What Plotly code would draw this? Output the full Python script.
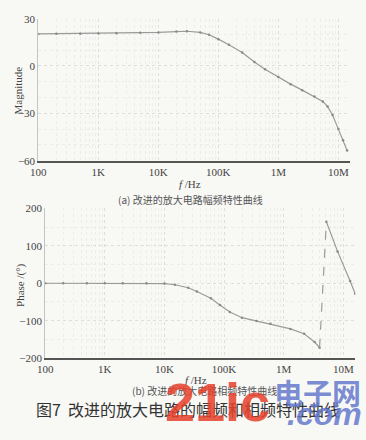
import plotly.graph_objects as go

# ---------------- data ----------------
mag_freq = [100, 200, 500, 1e3, 2e3, 5e3, 1e4, 2e4, 3e4, 5e4, 7e4, 1e5, 1.5e5,
            2.5e5, 4e5, 6e5, 1e6, 1.6e6, 2.5e6, 4e6, 5.5e6, 6.6e6, 8e6, 1e7, 1.2e7, 1.4e7]
mag_db = [20.3, 20.4, 20.5, 20.6, 20.8, 21.0, 21.3, 21.8, 22.0, 21.3, 19.8, 17.0, 13.5,
          8.5, 2.5, -2.0, -7.0, -11.5, -15.3, -19.3, -22.5, -25.6, -31.0, -40.0, -47.0, -53.5]

phase_freq_a = [100, 200, 500, 1e3, 2e3, 5e3, 1e4, 1.5e4, 2.5e4, 3.5e4, 6e4, 8.5e4, 1.25e5,
                2e5, 3.5e5, 6e5, 1.3e6, 2.2e6, 3.3e6, 4.0e6]
phase_deg_a = [0, 0, 0, 0, 0, 0, -1, -4, -12, -22, -40, -58, -77,
               -92, -101, -108, -122, -135, -157, -172]
phase_freq_b = [5.2e6, 8e6, 1.3e7, 1.58e7]
phase_deg_b = [164, 85, 6, -28]

x_tickvals = [100, 1e3, 1e4, 1e5, 1e6, 1e7]
x_ticktext = ["100", "1K", "10K", "100K", "1M", "10M"]
mag_ticks = [30, 0, -30, -60]
phase_ticks = [200, 100, 0, -100, -200]

caption_a = "(a) 改进的放大电路幅频特性曲线"
caption_b = "(b) 改进的放大电路相频特性曲线"
caption_fig = "图7  改进的放大电路的幅频和相频特性曲线"

# ---------------- style ----------------
W, H = 366, 440
SERIF = "Liberation Serif, Times New Roman, serif"
CJK = "Noto Sans CJK SC"
LINE = "#9a9a9a"
MARK = "#8a8a8a"
GRID = "#dedede"
MINOR = "#ececec"
BG = "#f8f8f5"

def px(x):
    return x / W

def py(y):
    return 1 - y / H

fig = go.Figure()

fig.add_trace(go.Scatter(x=mag_freq, y=mag_db, mode="lines+markers",
                         line=dict(color=LINE, width=1.2),
                         marker=dict(size=2.5, color=MARK),
                         xaxis="x", yaxis="y", showlegend=False))

fig.add_trace(go.Scatter(x=phase_freq_a, y=phase_deg_a, mode="lines+markers",
                         line=dict(color=LINE, width=1.2),
                         marker=dict(size=2.5, color=MARK),
                         xaxis="x2", yaxis="y2", showlegend=False))
fig.add_trace(go.Scatter(x=[phase_freq_a[-1], phase_freq_b[0]],
                         y=[phase_deg_a[-1], phase_deg_b[0]], mode="lines",
                         line=dict(color=LINE, width=1.2, dash="dash"),
                         xaxis="x2", yaxis="y2", showlegend=False))
fig.add_trace(go.Scatter(x=phase_freq_b, y=phase_deg_b, mode="lines+markers",
                         line=dict(color=LINE, width=1.2),
                         marker=dict(size=2.5, color=MARK),
                         xaxis="x2", yaxis="y2", showlegend=False))

xcommon = dict(type="log", range=[2, 7.2], tickvals=x_tickvals, ticktext=x_ticktext,
               showgrid=True, gridcolor=GRID, griddash="dot", gridwidth=1,
               minor=dict(dtick="D1", showgrid=True, gridcolor=MINOR, griddash="dot"),
               showline=True, linecolor="#555", linewidth=2, ticks="",
               tickfont=dict(family=SERIF, size=11, color="#444"), zeroline=False)
ycommon = dict(showgrid=True, gridcolor=GRID, griddash="dot", gridwidth=1,
               showline=True, linecolor="#c4c4c4", linewidth=1, ticks="",
               tickfont=dict(family=SERIF, size=11, color="#444"), zeroline=False)

fig.update_layout(
    width=W, height=H, margin=dict(l=0, r=0, t=0, b=0),
    paper_bgcolor=BG, plot_bgcolor=BG,
    xaxis=dict(xcommon, domain=[px(31), px(350)], anchor="y"),
    yaxis=dict(ycommon, domain=[py(159), py(13)], range=[-60, 30], tickvals=mag_ticks,
               minor=dict(dtick=10, showgrid=True, gridcolor=MINOR, griddash="dot"),
               anchor="x"),
    xaxis2=dict(xcommon, domain=[px(38), px(355)], anchor="y2"),
    yaxis2=dict(ycommon, domain=[py(362), py(208)], range=[-200, 200], tickvals=phase_ticks,
                minor=dict(dtick=50, showgrid=True, gridcolor=MINOR, griddash="dot"),
                anchor="x2"),
)

ann = [
    dict(text="Magnitude", x=px(10), y=py(87), textangle=-90,
         font=dict(family=SERIF, size=11, color="#444")),
    dict(text="Phase /(°)", x=px(12), y=py(287), textangle=-90,
         font=dict(family=SERIF, size=11, color="#444")),
    dict(text="<i>f</i> /Hz", x=px(186), y=py(183),
         font=dict(family=SERIF, size=11, color="#444")),
    dict(text="<i>f</i> /Hz", x=px(192), y=py(384),
         font=dict(family=SERIF, size=11, color="#444")),
    dict(text=caption_a, x=px(187), y=py(199),
         font=dict(family=CJK, size=10, color="#555")),
    dict(text=caption_b, x=px(201), y=py(395),
         font=dict(family=CJK, size=10, color="#555")),
    dict(text=caption_fig, x=px(184), y=py(414),
         font=dict(family=CJK, size=16, color="#333")),
]
for a in ann:
    a.update(xanchor="center", yanchor="middle")

# watermark of the scanned source
ann += [
    dict(text="<b>21ic</b>", x=px(214), y=py(440), xanchor="center", yanchor="bottom",
         font=dict(family="Liberation Sans", size=54, color="rgba(232,65,44,0.85)")),
    dict(text="<b>电子网</b>", x=px(316), y=py(397), xanchor="center", yanchor="middle",
         font=dict(family=CJK, size=29, color="rgba(100,120,205,0.85)")),
    dict(text="<b><i>.com</i></b>", x=px(364), y=py(440), xanchor="right", yanchor="bottom",
         font=dict(family="Liberation Sans", size=32, color="rgba(100,120,205,0.85)")),
]
for a in ann:
    a.update(xref="paper", yref="paper", showarrow=False)
fig.update_layout(annotations=ann)

fig.write_html("out.html")
